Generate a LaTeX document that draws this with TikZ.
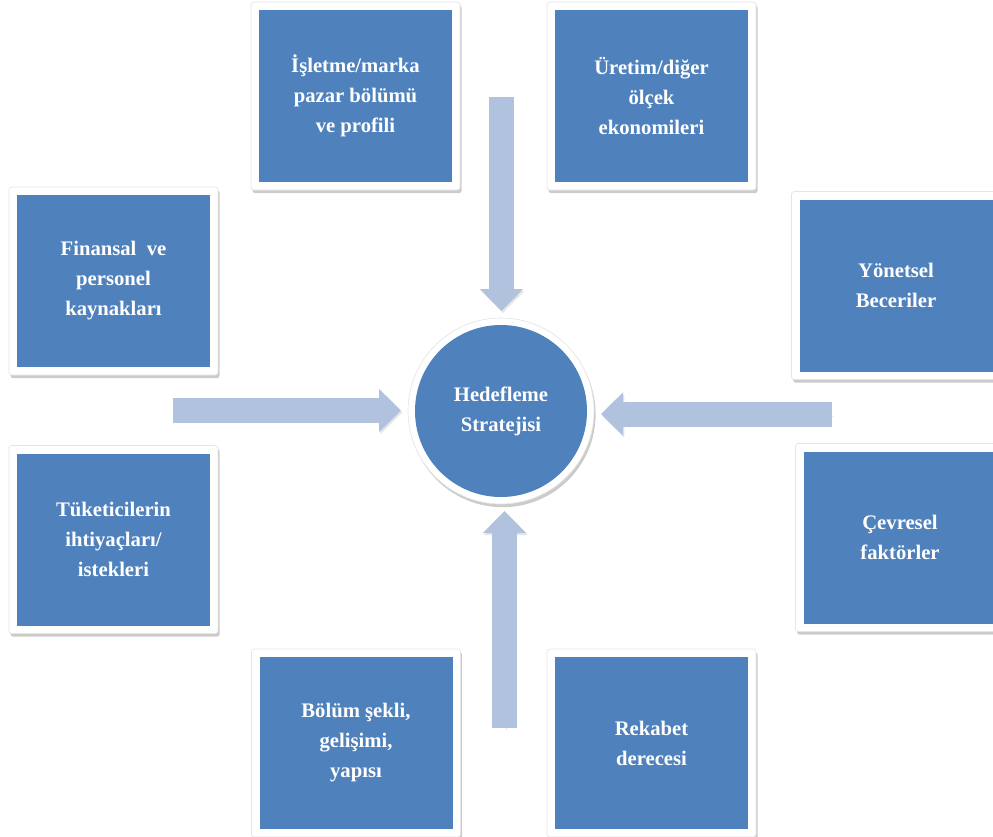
\documentclass[tikz,border=0pt]{standalone}
\usepackage{fontspec}
\setmainfont{Liberation Serif}
\usepackage{tikz}
\usetikzlibrary{arrows.meta,positioning,shadows,calc}

\definecolor{boxblue}{RGB}{79,129,189}
\definecolor{arrowblue}{RGB}{176,194,222}

\begin{document}
\begin{tikzpicture}[x=0.75pt,y=-0.75pt,
  factor/.style={rectangle,fill=white,draw=black!10,line width=0.5pt,
    rounded corners=2pt,minimum width=156.75pt,minimum height=141pt,
    text=white,align=center,
    font=\bfseries\fontsize{15.5}{22.5}\selectfont,
    path picture={\fill[boxblue,sharp corners]
      ([xshift=6pt,yshift=6pt]path picture bounding box.south west) rectangle
      ([xshift=-6pt,yshift=-6pt]path picture bounding box.north east);},
    drop shadow={shadow xshift=1.2pt,shadow yshift=-2.4pt,opacity=0.45,fill=black!45}},
  hubcircle/.style={circle,fill=white,draw=black!10,line width=0.5pt,
    minimum size=139.5pt,text=white,align=center,
    font=\bfseries\fontsize{15.5}{22.5}\selectfont,
    path picture={\fill[boxblue] (path picture bounding box.center) circle[radius=64.5pt];},
    drop shadow={shadow xshift=1.2pt,shadow yshift=-2.4pt,opacity=0.45,fill=black!45}},
  bigarrow/.style={draw=arrowblue,line width=18.75pt,
    -{Triangle[width=31.5pt,length=16.5pt]},shorten >=5pt,
    preaction={draw=black!40,opacity=0.25,transform canvas={shift={(1pt,-1.5pt)}}}}]
\useasboundingbox (0,0) rectangle (993,836);

% Center
\node[hubcircle] (hub) at (501,411) {Hedefleme\\Stratejisi};

% Factors
\node[factor] (brand) at (355.5,96) {İşletme/marka\\pazar bölümü\\ve profili};
\node[factor] (scale) at (651.5,96) {Üretim/diğer\\ölçek\\ekonomileri};
\node[factor] (finance) at (113.5,281) {Finansal\ \ ve\\personel\\kaynakları};
\node[factor] (manage) at (896,285.5) {Yönetsel\\Beceriler};
\node[factor] (needs) at (113.5,539.5) {Tüketicilerin\\ihtiyaçları/\\istekleri};
\node[factor] (env) at (900,537.5) {Çevresel\\faktörler};
\node[factor] (segment) at (356,743) {Bölüm şekli,\\gelişimi,\\yapısı};
\node[factor] (rivals) at (651.5,743) {Rekabet\\derecesi};

% Arrow tails
\coordinate (topin) at (501.5,97);
\coordinate (leftin) at (173,410.5);
\coordinate (rightin) at (832,414);
\coordinate (botin) at (504.5,728);

% Arrows
\draw[bigarrow] (topin) -- (topin |- hub.north);
\draw[bigarrow] (leftin) -- (leftin -| hub.west);
\draw[bigarrow] (rightin) -- (rightin -| hub.east);
\draw[bigarrow] (botin) -- (botin |- hub.south);
\end{tikzpicture}
\end{document}
